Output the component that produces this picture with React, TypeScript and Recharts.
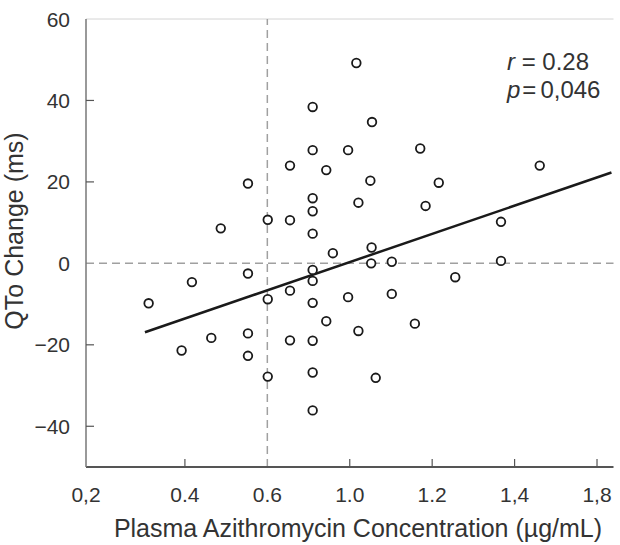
import React from 'react';
import { ScatterChart, Scatter, XAxis, YAxis, ReferenceLine } from 'recharts';

// Plasma azithromycin concentration (axis units) per patient
const concentration = [
  0.312, 0.392, 0.417, 0.464, 0.487, 0.553, 0.553, 0.553, 0.553, 0.601,
  0.601, 0.601, 0.655, 0.655, 0.655, 0.655, 0.71, 0.71, 0.71, 0.71,
  0.71, 0.71, 0.71, 0.71, 0.71, 0.71, 0.71, 0.743, 0.743, 0.759,
  0.796, 0.796, 0.816, 0.821, 0.821, 0.85, 0.853, 0.852, 0.854, 0.863,
  0.902, 0.902, 0.958, 0.971, 0.984, 1.016, 1.056, 1.167, 1.167, 1.261,
];
// QTo change (ms)
const qtoChange = [
  -9.8, -21.4, -4.6, -18.3, 8.6, 19.6, -2.5, -17.2, -22.7, 10.7,
  -8.8, -27.8, 24.0, 10.6, -6.7, -18.9, 38.4, 27.8, 16.0, 12.8,
  7.3, -1.6, -4.3, -9.7, -19.0, -26.8, -36.1, 22.9, -14.2, 2.5,
  27.8, -8.3, 49.2, 14.9, -16.6, 20.3, 3.9, 0.0, 34.7, -28.1,
  0.4, -7.5, -14.8, 28.2, 14.1, 19.8, -3.4, 10.2, 0.6, 24.0,
];
// Regression line end points
const fitX = [0.303, 1.435];
const fitY = [-16.9, 22.3];

const xTicks = [0.16, 0.4, 0.6, 0.8, 1.0, 1.2, 1.4];
const xTickLabels = ['0,2', '0.4', '0.6', '1.0', '1.2', '1,4', '1,8'];
const yTicks = [-40, -20, 0, 20, 40, 60];
const yTickLabels = ['\u221240', '\u221220', '0', '20', '40', '60'];

const xTitle = 'Plasma Azithromycin Concentration (\u00b5g/mL)';
const yTitle = 'QTo Change (ms)';
const statR = '0.28';
const statP = '0,046';

const points = concentration.map((x, i) => ({ x, y: qtoChange[i] }));

const FONT = '"Liberation Sans", Arial, Helvetica, sans-serif';
const TEXT = '#333';
const X_MARGIN = 20;
const Y_MARGIN = 16;

const XTick = (props: any) => {
  const { x, y, payload } = props;
  let i = xTicks.findIndex((t) => Math.abs(t - payload.value) < 1e-6);
  if (i < 0) i = props.index;
  const axisY = y - X_MARGIN;
  const mark = i !== 0 && xTicks[i] !== 0.6;
  return (
    <g>
      {mark && <line x1={x} x2={x} y1={axisY} y2={axisY - 8} stroke="#555" strokeWidth={1.2} />}
      <text x={x} y={y} dy="0.71em" textAnchor="middle" fontSize={21} fontFamily={FONT} fill={TEXT}>
        {xTickLabels[i]}
      </text>
    </g>
  );
};

const YTick = (props: any) => {
  const { x, y, payload } = props;
  let i = yTicks.indexOf(payload.value);
  if (i < 0) i = props.index;
  const axisX = x + Y_MARGIN;
  const mark = yTicks[i] !== 0 && yTicks[i] !== 60;
  return (
    <g>
      {mark && <line x1={axisX} x2={axisX + 8} y1={y} y2={y} stroke="#555" strokeWidth={1.2} />}
      <text x={x} y={y} dy="0.36em" textAnchor="end" fontSize={21} fontFamily={FONT} fill={TEXT}>
        {yTickLabels[i]}
      </text>
    </g>
  );
};

const Dot = (props: any) => (
  <circle cx={props.cx} cy={props.cy} r={4.3} fill="#fff" stroke="#1a1a1a" strokeWidth={1.8} />
);

export default function App() {
  return (
    <div style={{ position: 'absolute', left: 0, top: 0, background: '#fff' }}>
      <ScatterChart width={620} height={545} margin={{ top: 19, right: 6.5, bottom: 38, left: 46 }}>
        <XAxis
          type="number"
          dataKey="x"
          domain={[0.16, 1.44]}
          ticks={xTicks}
          interval={0}
          allowDataOverflow
          height={40}
          tickSize={0}
          tickMargin={X_MARGIN}
          tick={<XTick />}
          axisLine={{ stroke: '#555', strokeWidth: 2 }}
        />
        <YAxis
          type="number"
          dataKey="y"
          domain={[-50, 60]}
          ticks={yTicks}
          interval={0}
          allowDataOverflow
          width={40}
          tickSize={0}
          tickMargin={Y_MARGIN}
          tick={<YTick />}
          axisLine={{ stroke: '#777', strokeWidth: 1.5 }}
        />
        <ReferenceLine y={60} stroke="#d4d4d4" strokeWidth={1} />
        <ReferenceLine x={0.6} stroke="#a0a0a0" strokeWidth={1.5} strokeDasharray="8 5" />
        <ReferenceLine y={0} stroke="#a0a0a0" strokeWidth={1.5} strokeDasharray="8 5" />
        <ReferenceLine
          segment={[{ x: fitX[0], y: fitY[0] }, { x: fitX[1], y: fitY[1] }]}
          stroke="#1a1a1a"
          strokeWidth={2.5}
        />
        <Scatter data={points} shape={<Dot />} isAnimationActive={false} />
        <text x={358} y={537} textAnchor="middle" fontSize={25} fontFamily={FONT} fill={TEXT}>
          {xTitle}
        </text>
        <text transform="translate(23,231) rotate(-90)" textAnchor="middle" fontSize={25} fontFamily={FONT} fill={TEXT}>
          {yTitle}
        </text>
        <text x={507} y={70} fontSize={24} fontFamily={FONT} fill={TEXT}>
          <tspan fontStyle="italic">r</tspan>
          <tspan>{' = ' + statR}</tspan>
        </text>
        <text x={507} y={98} fontSize={24} fontFamily={FONT} fill={TEXT}>
          <tspan fontStyle="italic">p</tspan>
          <tspan dx={2}>=</tspan>
          <tspan dx={4}>{statP}</tspan>
        </text>
      </ScatterChart>
    </div>
  );
}
